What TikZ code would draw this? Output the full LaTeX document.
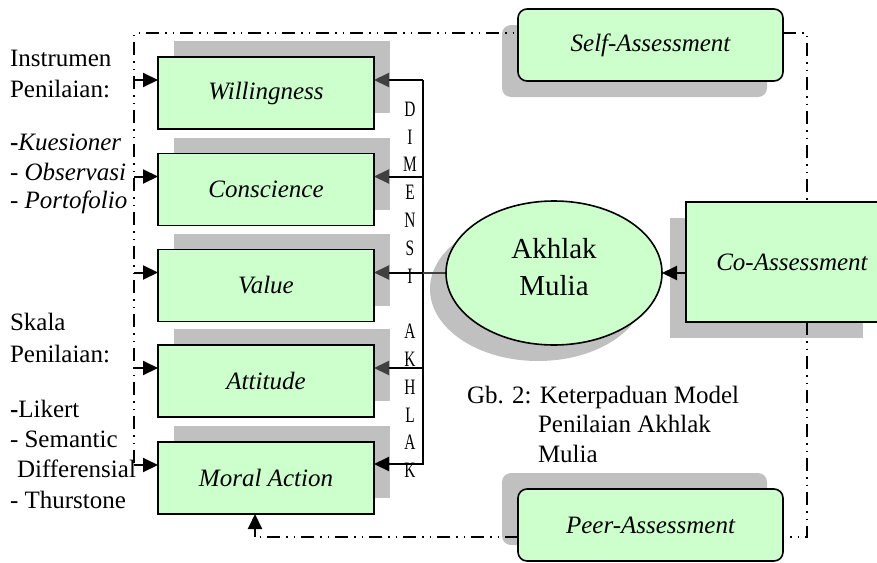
\documentclass[tikz,border=0pt]{standalone}
\usepackage{fontspec}
\setmainfont{Liberation Serif}[ItalicFont={Liberation Serif Italic},BoldFont={Liberation Serif Bold}]
\newfontfamily\dimfont[FakeStretch=0.7]{Liberation Serif}
\usetikzlibrary{arrows.meta,shapes.geometric,calc}
\definecolor{boxgreen}{HTML}{CCFFCC}
\definecolor{shadowgray}{HTML}{C0C0C0}
\definecolor{tipgray}{HTML}{404040}
\pgfdeclarelayer{shadowlayer}
\pgfdeclarelayer{linelayer}
\pgfsetlayers{shadowlayer,linelayer,main}
\begin{document}
\begin{tikzpicture}[x=1pt,y=-1pt,
  every node/.style={inner sep=0pt,outer sep=0pt},
  lbox/.style={draw=black,line width=1.6pt,fill=boxgreen,minimum width=216pt,minimum height=72pt,font=\fontsize{25}{30}\selectfont\itshape},
  rbox/.style={lbox,rounded corners=9pt,minimum width=265pt},
  framelines/.style={line width=1.5pt,dash pattern=on 13pt off 6pt on 1.5pt off 6pt on 1.5pt off 6pt},
  conn/.style={line width=2pt},
  tipb/.style={conn,-{Triangle[length=15pt,width=14pt]}},
  tipg/.style={conn,-{Triangle[length=15pt,width=14pt,color=tipgray]}},
  txt/.style={anchor=base west,font=\fontsize{25}{30}\selectfont},
  dimletter/.style={font=\dimfont\fontsize{22}{22}\selectfont},
]
\useasboundingbox (0,0) rectangle (877,562);

% ---- boxes
\node[lbox] (W)  at (266,93)    {Willingness};
\node[lbox] (C)  at (266,189.5) {Conscience};
\node[lbox] (V)  at (266,285.5) {Value};
\node[lbox] (At) at (266,381)   {Attitude};
\node[lbox] (M)  at (266,478)   {Moral Action};
\node[rbox] (self) at (650.5,45)  {Self-Assessment};
\node[rbox] (peer) at (650.5,525) {Peer-Assessment};
\node[lbox,minimum width=193pt,minimum height=120pt] (co) at (782.5,262) {\hspace*{19pt}Co-Assessment};
\node[ellipse,draw=black,line width=1.6pt,fill=boxgreen,minimum width=216pt,minimum height=144pt] (akh) at (554,273) {};
\node[font=\fontsize{29}{37}\selectfont,align=center] (akhtxt) at (554,267) {Akhlak\\Mulia};

% ---- shadows
\begin{pgfonlayer}{shadowlayer}
  \foreach \n in {W,C,V,At,M}
    \fill[shadowgray] ($(\n.south west)+(16,-16)$) rectangle ($(\n.north east)+(16,-16)$);
  \fill[shadowgray,rounded corners=9pt] ($(self.south west)+(-16,16)$) rectangle ($(self.north east)+(-16,16)$);
  \fill[shadowgray,rounded corners=9pt] ($(peer.south west)+(-16,-16)$) rectangle ($(peer.north east)+(-16,-16)$);
  \fill[shadowgray] ($(co.south west)+(-16,16)$) rectangle ($(co.north east)+(-16,16)$);
  \fill[shadowgray] ($(akh.center)+(-16,16)$) ellipse [x radius=108, y radius=72];
\end{pgfonlayer}

% ---- connectors and frame
\begin{pgfonlayer}{linelayer}
  \coordinate (fTL) at (134,33);
  \coordinate (fBL) at (134,463);
  \coordinate (fTR) at (807,33);
  \coordinate (fBR) at (807,537);
  \coordinate (fBM) at (255,537);
  \coordinate (busT) at (423,80);
  \coordinate (busB) at (423,465);
  \draw[framelines] (fBL) -- (fTL) -- (fTL -| self.west);
  \draw[framelines] (self.east |- fTR) -- (fTR) -- (fTR |- co.north);
  \draw[framelines] (co.south -| fBR) -- (fBR) -- (fBR -| peer.east);
  \draw[framelines] (peer.west |- fBM) -- (fBM);
  \draw[tipb] (fBM) -- (fBM |- M.south);
  \foreach \n in {W,C,V,At,M} {
    \path ($(\n.west)+(0,-13)$) coordinate (lw\n);
    \draw[tipb] (lw\n -| fTL) -- (lw\n);
  }
  \draw[conn] (busT) -- (busB);
  \foreach \n in {W,C,V,At} {
    \path ($(\n.east)+(0,-13)$) coordinate (re\n);
    \draw[tipg] (re\n -| busT) -- (re\n);
  }
  \path ($(M.east)+(0,-14)$) coordinate (reM);
  \draw[tipb] (reM -| busT) -- (reM);
  \draw[conn,draw=tipgray] (akh.west -| busT) -- (akh.west);
  \draw[tipb] (akh.east -| co.west) -- (akh.east);
\end{pgfonlayer}

% ---- vertical letters
\foreach \ch [count=\i from 0] in {D,I,M,E,N,S,I,{},A,K,H,L,A,K}
  \node[dimletter] (dl\i) at (410,{109+27.8*\i}) {\ch};

% ---- left texts
\node[txt] (t1)  at (10,66)  {Instrumen};
\node[txt] (t2)  at (10,97)  {Penilaian:};
\node[txt] (t3)  at (10,150) {\textbf{-}\textit{Kuesioner}};
\node[txt] (t4)  at (10,180) {\textit{- Observasi}};
\node[txt] (t5)  at (10,208) {\textit{- Portofolio}};
\node[txt] (t6)  at (10,330) {Skala};
\node[txt] (t7)  at (10,362) {Penilaian:};
\node[txt] (t8)  at (10,417) {\textbf{-}Likert};
\node[txt] (t9)  at (10,447) {- Semantic};
\node[txt] (t10) at (17,477) {Differensial};
\node[txt] (t11) at (10,508) {- Thurstone};

% ---- caption
\node[txt] (c1) at (467,403) {Gb. 2: Keterpaduan Model};
\node[txt] (c2) at (538,432) {Penilaian Akhlak};
\node[txt] (c3) at (538,462) {Mulia};
\end{tikzpicture}
\end{document}
